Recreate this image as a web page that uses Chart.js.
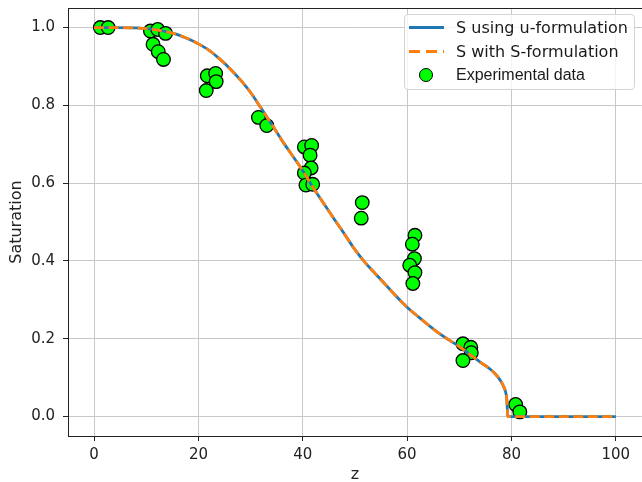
<!DOCTYPE html>
<html>
<head>
<meta charset="utf-8">
<title>Saturation profile</title>
<script src="https://cdn.jsdelivr.net/npm/chart.js@4.4.0/dist/chart.umd.min.js"></script>
<style>
    html, body { margin: 0; padding: 0; background: #fff; overflow: hidden; }
    #wrap { position: relative; width: 650px; height: 500px; }
    #legend {
        position: absolute; left: 404px; top: 14px; width: 229px; height: 74px;
        border: 1px solid #d4d4d4; border-radius: 4px;
        background: rgba(255, 255, 255, 0.8);
        font-family: "DejaVu Sans", sans-serif; font-size: 16px; color: #1a1a1a;
    }
    .row { position: absolute; left: 0; width: 100%; height: 24px; }
    .sym { position: absolute; left: 4px; width: 35px; top: 50%; height: 3px; margin-top: -1.5px; }
    .dot { position: absolute; left: 14px; top: 50%; width: 12px; height: 12px; margin-top: -7px;
           border: 1.3px solid #000; border-radius: 50%; }
    .txt { position: absolute; left: 51px; top: 50%; transform: translateY(-50%); white-space: nowrap; }
</style>
</head>
<body>
<div id="wrap">
    <canvas id="chart" width="650" height="500"></canvas>
    <div id="legend"></div>
</div>
<script>
// curve (both formulations overlap in the picture)
const zCurve = [0, 4, 8, 10, 12, 14, 16, 18, 20, 22, 24, 26, 28, 30, 32, 34, 36, 38, 40, 42, 44, 46, 48, 50,
                52, 54, 56, 58, 60, 62, 64, 66, 68, 70, 72, 74, 76, 77, 78, 78.5, 78.9, 79.1, 79.2, 79.3, 80, 100];
const sUForm = [1.0, 1.0, 0.999, 0.997, 0.994, 0.989, 0.982, 0.971, 0.958, 0.942, 0.920, 0.895, 0.866, 0.833,
                0.793, 0.752, 0.710, 0.671, 0.632, 0.588, 0.548, 0.508, 0.469, 0.429, 0.395, 0.366, 0.337,
                0.308, 0.281, 0.258, 0.236, 0.215, 0.197, 0.180, 0.160, 0.140, 0.121, 0.108, 0.090, 0.077,
                0.062, 0.045, 0.020, 0.0, 0.0, 0.0];
const sSForm = [1.0, 1.0, 0.999, 0.997, 0.994, 0.989, 0.982, 0.971, 0.958, 0.942, 0.920, 0.895, 0.866, 0.833,
                0.793, 0.752, 0.710, 0.671, 0.632, 0.588, 0.548, 0.508, 0.469, 0.429, 0.395, 0.366, 0.337,
                0.308, 0.281, 0.258, 0.236, 0.215, 0.197, 0.180, 0.160, 0.140, 0.121, 0.108, 0.090, 0.077,
                0.062, 0.045, 0.020, 0.0, 0.0, 0.0];

// experimental points
const zExp = [1.2, 2.7, 10.8, 12.2, 13.7, 11.3, 12.3, 13.3, 21.7, 23.3, 23.4, 21.5, 31.5, 33.1,
              40.3, 41.7, 41.4, 41.6, 40.3, 40.6, 41.9, 51.4, 51.2, 61.5, 61.0, 61.4, 60.5, 61.5, 61.1,
              70.7, 72.2, 72.3, 70.7, 80.8, 81.6];
const sExp = [1.0, 1.0, 0.991, 0.995, 0.985, 0.957, 0.938, 0.918, 0.876, 0.882, 0.861, 0.838, 0.769, 0.748,
              0.693, 0.697, 0.672, 0.639, 0.626, 0.595, 0.597, 0.550, 0.510, 0.466, 0.443, 0.406, 0.389, 0.370, 0.342,
              0.187, 0.178, 0.164, 0.144, 0.031, 0.012];

const xTicks = [0, 20, 40, 60, 80, 100];
const yTicks = [0.0, 0.2, 0.4, 0.6, 0.8, 1.0];

const colors = {
    blue: '#1f77b4',
    orange: '#ff7f0e',
    green: '#00ff00',
    grid: '#c8c8c8',
    ink: '#222222'
};

const tickFont = { family: 'DejaVu Sans', size: 15 };
const labelFont = { family: 'DejaVu Sans', size: 16 };

function toPoints(xs, ys) {
    return xs.map((x, i) => ({ x: x, y: ys[i] }));
}

// matplotlib-like frame on all four sides
const framePlugin = {
    id: 'frame',
    afterDraw(chart) {
        const a = chart.chartArea;
        const ctx = chart.ctx;
        ctx.save();
        ctx.strokeStyle = colors.ink;
        ctx.lineWidth = 1;
        ctx.strokeRect(Math.round(a.left) + 0.5, Math.round(a.top) + 0.5,
                       Math.round(a.right - a.left), Math.round(a.bottom - a.top));
        ctx.restore();
    }
};

const chart = new Chart(document.getElementById('chart'), {
    type: 'scatter',
    data: {
        datasets: [{
            label: 'S using u-formulation',
            data: toPoints(zCurve, sUForm),
            showLine: true,
            borderColor: colors.blue,
            borderWidth: 2.8,
            pointRadius: 0,
            cubicInterpolationMode: 'monotone',
            order: 2
        }, {
            label: 'S with S-formulation',
            data: toPoints(zCurve, sSForm),
            showLine: true,
            borderColor: colors.orange,
            borderWidth: 2.8,
            borderDash: [10, 4.5],
            pointRadius: 0,
            cubicInterpolationMode: 'monotone',
            order: 1
        }, {
            label: 'Experimental data',
            data: toPoints(zExp, sExp),
            backgroundColor: colors.green,
            borderColor: '#000',
            borderWidth: 1.3,
            pointRadius: 6.8,
            order: 3
        }]
    },
    options: {
        responsive: false,
        animation: false,
        devicePixelRatio: 1,
        layout: { padding: { top: 6, right: 7, left: 0, bottom: 0 } },
        plugins: {
            legend: { display: false },
            tooltip: { enabled: false }
        },
        scales: {
            x: {
                type: 'linear',
                min: -5,
                max: 105,
                afterBuildTicks: s => { s.ticks = xTicks.map(v => ({ value: v })); },
                afterFit: s => { s.height = 64; s.paddingLeft = 0; s.paddingRight = 0; },
                ticks: { font: tickFont, color: colors.ink, padding: 5, maxRotation: 0 },
                grid: { color: colors.grid, lineWidth: 1, tickLength: 5, tickColor: colors.ink },
                border: { color: colors.ink, width: 1 },
                title: { display: true, text: 'z', font: labelFont, color: colors.ink, padding: { top: 0, bottom: 16 } }
            },
            y: {
                type: 'linear',
                min: -0.05,
                max: 1.05,
                afterBuildTicks: s => { s.ticks = yTicks.map(v => ({ value: v })); },
                afterFit: s => { s.width = 68; s.paddingTop = 0; s.paddingBottom = 0; },
                ticks: { font: tickFont, color: colors.ink, padding: 8, callback: v => v.toFixed(1) },
                grid: { color: colors.grid, lineWidth: 1, tickLength: 5, tickColor: colors.ink },
                border: { color: colors.ink, width: 1 },
                title: { display: true, text: 'Saturation', font: labelFont, color: colors.ink, padding: { top: 7, bottom: 0 } }
            }
        }
    },
    plugins: [framePlugin]
});

// legend box inside the plot, built from the dataset labels
function buildLegend() {
    const box = document.getElementById('legend');
    const ds = chart.data.datasets;
    const rows = [12, 36, 60];
    ds.forEach((d, i) => {
        const row = document.createElement('div');
        row.className = 'row';
        row.style.top = (rows[i] - 12) + 'px';
        let sym;
        if (i === 2) {
            sym = document.createElement('div');
            sym.className = 'dot';
            sym.style.background = d.backgroundColor;
        } else {
            sym = document.createElement('div');
            sym.className = 'sym';
            if (d.borderDash) {
                sym.style.background = 'repeating-linear-gradient(to right, ' + d.borderColor +
                    ' 0 11px, transparent 11px 17px)';
            } else {
                sym.style.background = d.borderColor;
            }
        }
        const txt = document.createElement('div');
        txt.className = 'txt';
        txt.textContent = d.label;
        if (i === 2) txt.style.fontFamily = '"Liberation Sans", Arial, sans-serif';
        row.appendChild(sym);
        row.appendChild(txt);
        box.appendChild(row);
    });
}
buildLegend();
</script>
</body>
</html>
